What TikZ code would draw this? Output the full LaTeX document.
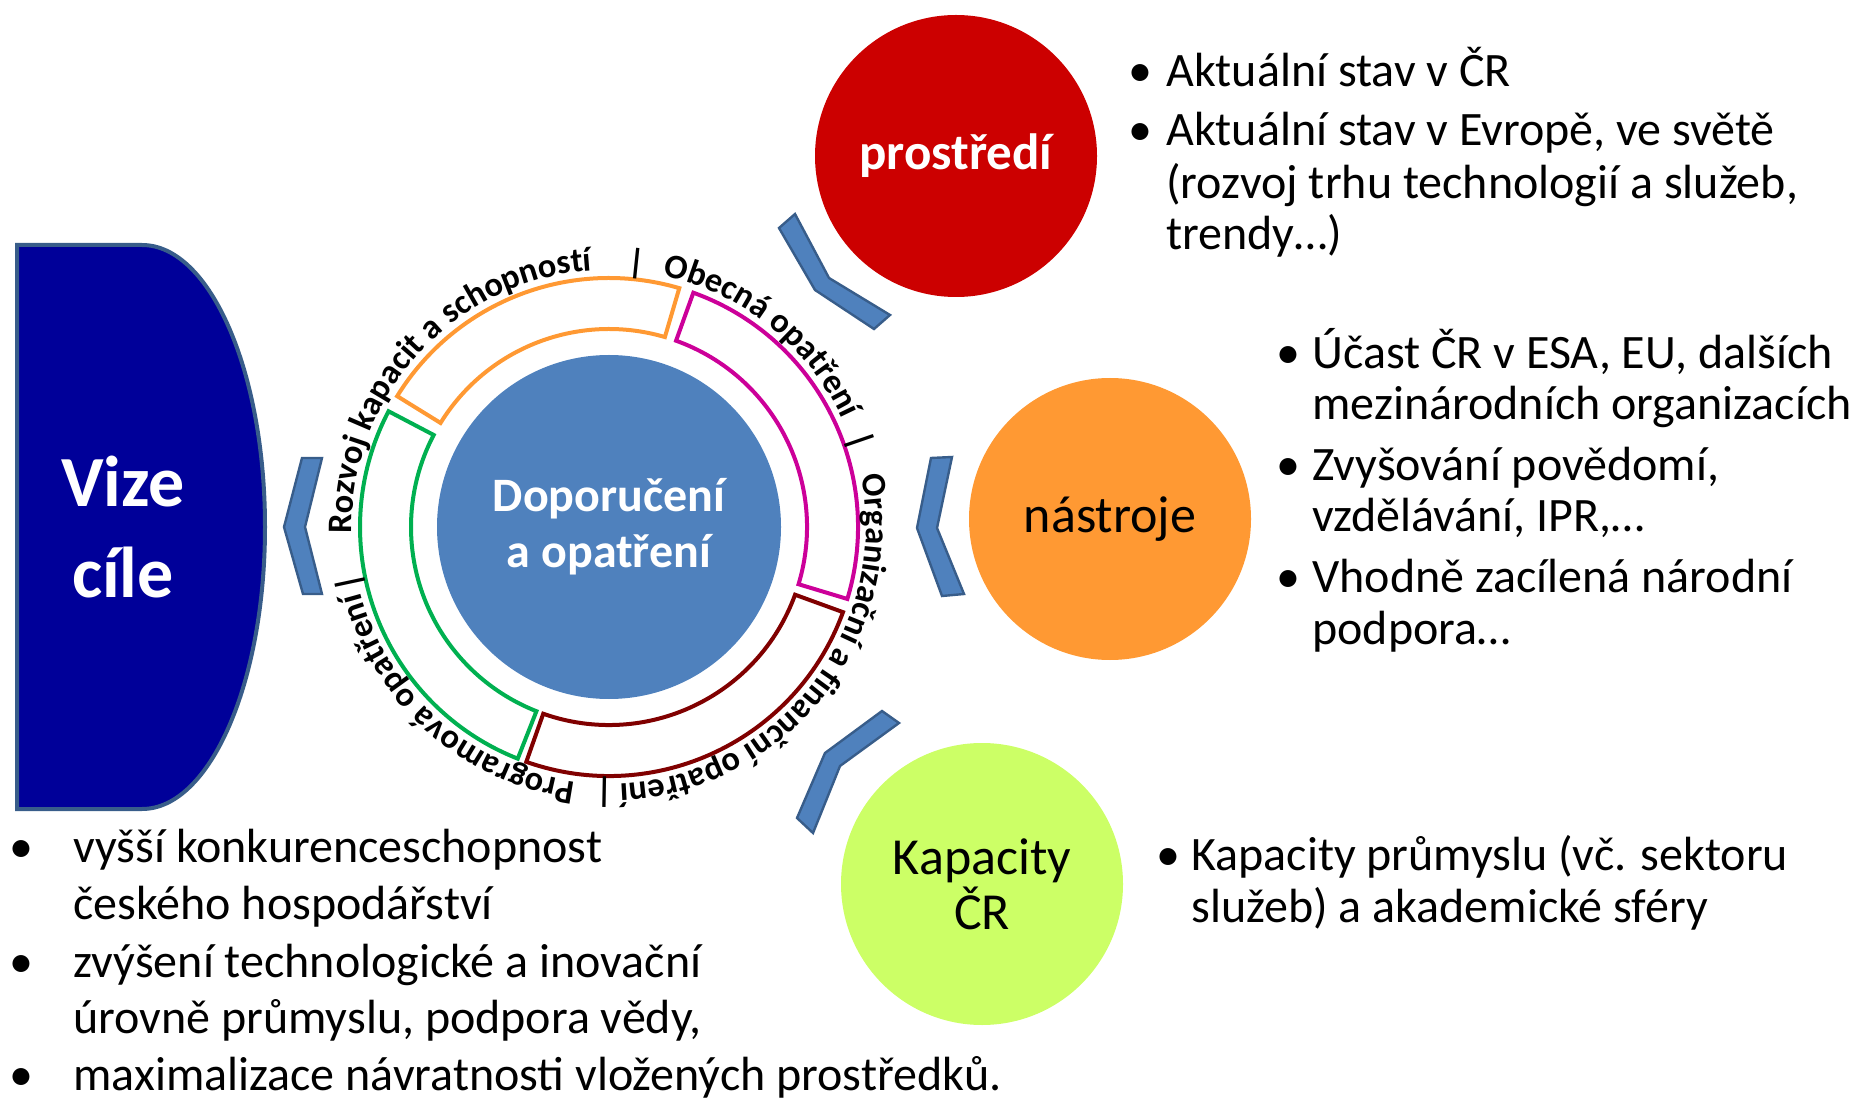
\documentclass[tikz,border=0pt]{standalone}
\usepackage{fontspec}
\setmainfont{Carlito}
\usetikzlibrary{decorations.text}
\definecolor{vizefill}{HTML}{000099}
\definecolor{edgeblue}{HTML}{385D8A}
\definecolor{chevfill}{HTML}{4F81BD}
\definecolor{corefill}{HTML}{4F81BD}
\definecolor{envred}{HTML}{CC0000}
\definecolor{toolorange}{HTML}{FF9933}
\definecolor{caplime}{HTML}{CCFF66}
\definecolor{rorange}{HTML}{FF9933}
\definecolor{rpink}{HTML}{CC0099}
\definecolor{rdark}{HTML}{800000}
\definecolor{rgreen}{HTML}{00B050}
\newcommand\ringfont{\fontsize{17.2}{20}\selectfont\bfseries}
\newcommand\bodyfont{\fontsize{24}{28}\selectfont}
\begin{document}
\begin{tikzpicture}[x=0.5pt,y=0.5pt,
  chev/.style={fill=chevfill,draw=edgeblue,line width=1.2pt,line join=miter},
  seg/.style={line width=2pt,fill=white,line join=miter},
  bigc/.style={circle,inner sep=0pt,minimum size=141pt,align=center},
  sepbar/.style={inner sep=0pt,font=\ringfont},
  ln/.style={anchor=base west,inner sep=0pt,font=\bodyfont},
  bl/.style={anchor=base,inner sep=0pt,font=\bodyfont}]
\useasboundingbox (0,0) rectangle (1857,1099);
% Vize shape
\draw[fill=vizefill,draw=edgeblue,line width=2pt] (17,854) -- (142,854)
  arc[start angle=90,end angle=-90,x radius=123,y radius=282] -- (17,290) -- cycle;
\node[inner sep=0pt,align=center,text=white,font=\fontsize{36}{45.5}\selectfont\bfseries] (vize) at (123,572) {Vize\\cíle};
% central circle
\node[circle,fill=corefill,inner sep=0pt,minimum size=172pt,align=center,text=white,
  font=\fontsize{24}{28}\selectfont\bfseries] (core) at (609,572) {Doporučení\\a opatření};
% ring
\begin{scope}[shift={(609,572)}]
  \draw[seg,draw=rorange] (148.3:249) arc[start angle=148.3,end angle=73.6,radius=249]
    -- (73.6:198) arc[start angle=73.6,end angle=148.3,radius=198] -- cycle;
  \draw[seg,draw=rpink] (70.2:249) arc[start angle=70.2,end angle=-16.8,radius=249]
    -- (-16.8:198) arc[start angle=-16.8,end angle=70.2,radius=198] -- cycle;
  \draw[seg,draw=rdark] (-20:249) arc[start angle=-20,end angle=-109.4,radius=249]
    -- (-109.4:198) arc[start angle=-109.4,end angle=-20,radius=198] -- cycle;
  \draw[seg,draw=rgreen] (-111.5:249) arc[start angle=-111.5,end angle=-207.7,radius=249]
    -- (-207.7:198) arc[start angle=-207.7,end angle=-111.5,radius=198] -- cycle;
  \path[decorate,decoration={text along path,text align=left,
    text={|\ringfont|Rozvoj kapacit a schopností}}]
    (181.5:257) arc[start angle=181.5,end angle=50,radius=257];
  \path[decorate,decoration={text along path,text align=left,
    text={|\ringfont|Obecná opatření}}]
    (78:257) arc[start angle=78,end angle=-10,radius=257];
  \path[decorate,decoration={text along path,text align=left,
    text={|\ringfont|Organizační a finanční opatření}}]
    (11.5:257) arc[start angle=11.5,end angle=-120,radius=257];
  \path[decorate,decoration={text along path,text align=left,
    text={|\ringfont|Programová opatření}}]
    (-97.4:257) arc[start angle=-97.4,end angle=-200,radius=257];
  \node[sepbar,rotate=-6] (sepa) at (84:265) {|};
  \node[sepbar,rotate=-71] (sepb) at (19:265) {|};
  \node[sepbar,rotate=-181] (sepc) at (-91:265) {|};
  \node[sepbar,rotate=102] (sepd) at (192:265) {|};
\end{scope}
% chevrons
\draw[chev] (302,641) -- (284,572) -- (303,505) -- (322,505) -- (305,572) -- (322,641) -- cycle;
\draw[chev] (779,871) -- (815,809) -- (874,770) -- (890,784) -- (829,821) -- (795,885) -- cycle;
\draw[chev] (931,641) -- (917,571) -- (942,503) -- (964,505) -- (937,571) -- (952,642) -- cycle;
\draw[chev] (882,388) -- (825,346) -- (797,281) -- (813,266) -- (840,333) -- (899,376) -- cycle;
% side circles
\node[bigc,fill=envred,text=white,font=\fontsize{25.5}{30}\selectfont\bfseries] (env) at (956,943) {prostředí};
\node[bigc,fill=toolorange,text=black,font=\fontsize{26}{30}\selectfont] (tools) at (1110,580) {nástroje};
\node[bigc,fill=caplime,text=black,font=\fontsize{26}{27.5}\selectfont] (cap) at (982,215) {Kapacity\\ČR};
% top-right text
\node[bl] (ba1) at (1140,1012.5) {•};
\node[ln] (ta1) at (1166,1012.5) {Aktuální stav v ČR};
\node[bl] (ba2) at (1140,953.3) {•};
\node[ln] (ta2) at (1166,953.3) {Aktuální stav v Evropě, ve světě};
\node[ln] (ta3) at (1166,900) {(rozvoj trhu technologií a služeb,};
\node[ln] (ta4) at (1166,849) {trendy…)};
% middle-right text
\node[bl] (bb1) at (1288,730.7) {•};
\node[ln] (tb1) at (1312,730.7) {Účast ČR v ESA, EU, dalších};
\node[ln] (tb2) at (1312,679.8) {mezinárodních organizacích};
\node[bl] (bb2) at (1288,618.2) {•};
\node[ln] (tb3) at (1312,618.2) {Zvyšování povědomí,};
\node[ln] (tb4) at (1312,567.3) {vzdělávání, IPR,…};
\node[bl] (bb3) at (1288,506.8) {•};
\node[ln] (tb5) at (1312,506.8) {Vhodně zacílená národní};
\node[ln] (tb6) at (1312,454.7) {podpora…};
% bottom-right text
\node[bl] (bc1) at (1168,228.5) {•};
\node[ln] (tc1) at (1191,228.5) {Kapacity průmyslu (vč. sektoru};
\node[ln] (tc2) at (1191,176.4) {služeb) a akademické sféry};
% bottom-left text
\node[bl] (bd1) at (21,236.8) {•};
\node[ln] (td1) at (73,236.8) {vyšší konkurenceschopnost};
\node[ln] (td2) at (73,180) {českého hospodářství};
\node[bl] (bd2) at (21,122) {•};
\node[ln] (td3) at (73,122) {zvýšení technologické a inovační};
\node[ln] (td4) at (73,65.1) {úrovně průmyslu, podpora vědy,};
\node[bl] (bd3) at (21,8.3) {•};
\node[ln] (td5) at (73,8.3) {maximalizace návratnosti vložených prostředků.};
\end{tikzpicture}
\end{document}
